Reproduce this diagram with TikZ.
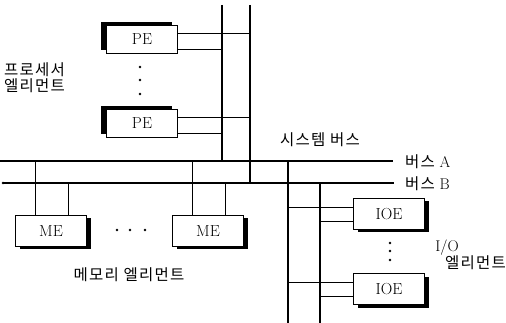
\documentclass[tikz,border=0pt]{standalone}
\usepackage{fontspec}
\newfontfamily\kr[LetterSpace=8]{Noto Sans CJK KR}
\usetikzlibrary{shadows, positioning}

\begin{document}
\begin{tikzpicture}[
    x=1pt, y=-1pt,
    elem/.style={draw, fill=white, line width=0.8pt, align=center,
                 minimum width=71pt, minimum height=31pt, inner sep=0pt,
                 font=\fontsize{16}{18}\selectfont},
    peunit/.style={elem, minimum height=28pt,
                   general shadow={fill=black, shadow xshift=-6pt, shadow yshift=3pt}},
    unit/.style={elem,
                 general shadow={fill=black, shadow xshift=4pt, shadow yshift=-3pt}},
    bus/.style={line width=2pt},
    tap/.style={line width=0.8pt},
    lbl/.style={font=\fontsize{15.5}{16}\selectfont, inner sep=0pt, align=left},
    dot/.style={circle, fill=black, inner sep=0pt, minimum size=2.6pt},
]
\useasboundingbox (0,0) rectangle (506,323);

% ---- 버스 ----
\coordinate (aL) at (0,161);
\coordinate (aR) at (393,161);
\coordinate (bL) at (3,183);
\coordinate (bR) at (394,183);
\coordinate (s1t) at (222,5);
\coordinate (s2t) at (250,5);
\coordinate (i1b) at (288,323);
\coordinate (i2b) at (320,323);
\draw[bus] (aL) -- (aR);
\draw[bus, line width=1.6pt] (bL) -- (bR);
\fill (bL) circle (1.3pt);
\draw[bus] (s1t) -- (s1t |- aL);
\draw[bus] (s2t) -- (s2t |- bL);
\draw[bus] (i1b) -- (i1b |- aL);
\draw[bus] (i2b) -- (i2b |- bL);
\draw[tap] (s1t |- 0,33) -- (s2t |- 0,33);
\draw[tap] (s1t |- 0,117) -- (s2t |- 0,117);

% ---- 프로세서 엘리먼트 ----
\node[peunit] (pe1) at (142,39) {PE};
\node[peunit] (pe2) at (142,123) {PE};
\node[dot] (pd1) at (140,67) {};
\node[dot] (pd2) at (140,80) {};
\node[dot] (pd3) at (140,94) {};
\draw[tap] ([yshift=6pt]pe1.east) -- ([yshift=6pt]pe1.east -| s2t);
\draw[tap] ([yshift=-10pt]pe1.east) -- ([yshift=-10pt]pe1.east -| s1t);
\draw[tap] ([yshift=6pt]pe2.east) -- ([yshift=6pt]pe2.east -| s2t);
\draw[tap] ([yshift=-10pt]pe2.east) -- ([yshift=-10pt]pe2.east -| s1t);

% ---- 메모리 엘리먼트 ----
\node[unit] (me1) at (51,231) {ME};
\node[unit] (me2) at (208,231) {ME};
\node[dot] (md1) at (117,230) {};
\node[dot] (md2) at (130,230) {};
\node[dot] (md3) at (145,230) {};
\draw[tap] ([xshift=-16pt]me1.north) -- ([xshift=-16pt]me1.north |- aL);
\draw[tap] ([xshift=17pt]me1.north) -- ([xshift=17pt]me1.north |- bL);
\draw[tap] ([xshift=-16pt]me2.north) -- ([xshift=-16pt]me2.north |- aL);
\draw[tap] ([xshift=17pt]me2.north) -- ([xshift=17pt]me2.north |- bL);

% ---- I/O 엘리먼트 ----
\node[unit] (ioe1) at (389,214) {IOE};
\node[unit] (ioe2) at (389,289) {IOE};
\node[dot] (id1) at (390,243) {};
\node[dot] (id2) at (390,251) {};
\node[dot] (id3) at (390,260) {};
\draw[tap] ([yshift=7pt]ioe1.west) -- ([yshift=7pt]ioe1.west -| i1b);
\draw[tap] ([yshift=-7pt]ioe1.west) -- ([yshift=-7pt]ioe1.west -| i2b);
\draw[tap] ([yshift=7pt]ioe2.west) -- ([yshift=7pt]ioe2.west -| i1b);
\draw[tap] ([yshift=-7pt]ioe2.west) -- ([yshift=-7pt]ioe2.west -| i2b);

% ---- 레이블 ----
\node[lbl, anchor=west] (pelbl) at (4,78) {\kr 프로세서\\\kr 엘리먼트};
\node[lbl] (sblbl) at (320,140) {\kr 시스템 버스};
\node[lbl, anchor=west] (alb) at (405,162) {{\kr 버스} A};
\node[lbl, anchor=west] (blb) at (405,184) {{\kr 버스} B};
\node[lbl] (melbl) at (129,275) {\kr 메모리 엘리먼트};
\node[lbl] (iolbl) at (447,248) {I/O};
\node[lbl, anchor=east] (ioelbl) at (506,263) {\kr 엘리먼트};
\end{tikzpicture}
\end{document}
